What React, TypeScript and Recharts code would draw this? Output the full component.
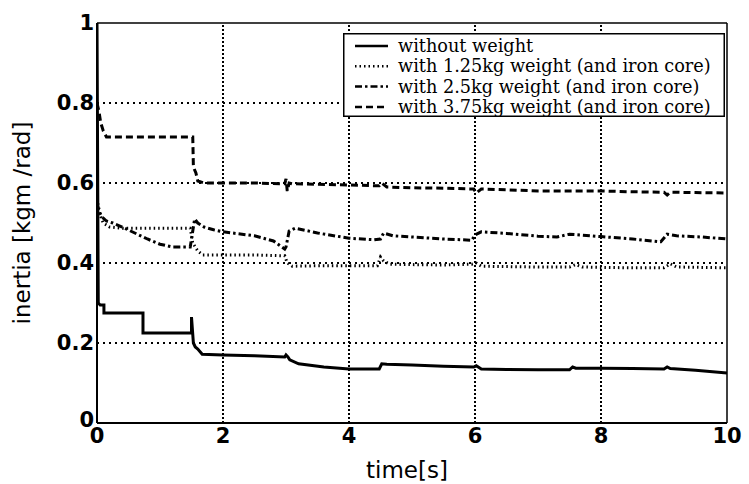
import React from 'react';
import { LineChart, Line, XAxis, YAxis, ReferenceLine, Legend } from 'recharts';

const SERIES_NAMES = [
  'without weight',
  'with 1.25kg weight (and iron core)',
  'with 2.5kg weight (and iron core)',
  'with 3.75kg weight (and iron core)',
];

// without weight
const T_NONE = [0, 0.02, 0.05, 0.11, 0.11, 0.73, 0.73, 1.5, 1.5, 1.53, 1.56, 1.6, 1.67, 2.0, 2.5, 2.98, 3.0, 3.03, 3.06, 3.2, 3.6, 4.0, 4.48, 4.52, 4.6, 5.0, 5.5, 5.98, 6.02, 6.1, 6.5, 7.0, 7.5, 7.55, 7.6, 8.0, 8.5, 9.0, 9.05, 9.1, 9.5, 10];
const V_NONE = [1.0, 0.3, 0.295, 0.295, 0.275, 0.275, 0.225, 0.225, 0.265, 0.2, 0.19, 0.185, 0.172, 0.17, 0.168, 0.165, 0.17, 0.165, 0.158, 0.148, 0.14, 0.135, 0.135, 0.148, 0.147, 0.145, 0.142, 0.14, 0.143, 0.135, 0.134, 0.133, 0.133, 0.14, 0.137, 0.137, 0.136, 0.135, 0.14, 0.136, 0.132, 0.125];

// with 1.25kg
const T_125 = [0, 0.05, 0.1, 0.2, 0.4, 1.48, 1.52, 1.6, 1.68, 2.0, 2.5, 2.98, 3.02, 3.1, 3.5, 4.0, 4.45, 4.5, 4.55, 4.65, 5.0, 5.5, 5.95, 6.02, 6.1, 6.5, 7.0, 7.5, 7.6, 7.7, 8.0, 8.5, 9.0, 9.1, 9.2, 9.6, 10];
const V_125 = [0.56, 0.52, 0.5, 0.49, 0.487, 0.487, 0.45, 0.43, 0.42, 0.42, 0.42, 0.418, 0.4, 0.392, 0.393, 0.393, 0.393, 0.415, 0.405, 0.397, 0.396, 0.395, 0.397, 0.4, 0.392, 0.391, 0.39, 0.39, 0.396, 0.39, 0.389, 0.388, 0.388, 0.398, 0.39, 0.389, 0.388];

// with 2.5kg
const T_250 = [0, 0.03, 0.08, 0.15, 0.25, 0.4, 0.6, 0.8, 1.0, 1.2, 1.48, 1.5, 1.55, 1.6, 1.7, 1.85, 2.0, 2.5, 2.8, 2.98, 3.0, 3.05, 3.15, 3.5, 4.0, 4.4, 4.5, 4.55, 4.7, 5.0, 5.5, 5.95, 6.0, 6.1, 6.5, 7.0, 7.3, 7.5, 8.0, 8.5, 8.95, 9.05, 9.2, 9.6, 10];
const V_250 = [0.55, 0.53, 0.515, 0.505, 0.5, 0.49, 0.475, 0.46, 0.447, 0.44, 0.44, 0.46, 0.51, 0.5, 0.49, 0.483, 0.478, 0.468, 0.455, 0.435, 0.44, 0.48, 0.487, 0.475, 0.462, 0.458, 0.46, 0.475, 0.468, 0.465, 0.46, 0.457, 0.47, 0.478, 0.474, 0.467, 0.465, 0.472, 0.466, 0.46, 0.453, 0.472, 0.468, 0.465, 0.46];

// with 3.75kg
const T_375 = [0, 0.03, 0.06, 0.1, 0.15, 1.52, 1.53, 1.57, 1.6, 1.7, 2.0, 2.5, 2.98, 3.0, 3.02, 3.05, 3.1, 3.5, 4.0, 4.48, 4.52, 4.6, 5.0, 5.5, 5.98, 6.02, 6.1, 6.5, 7.0, 7.5, 8.0, 8.5, 9.0, 9.05, 9.1, 9.5, 10];
const V_375 = [0.8, 0.78, 0.75, 0.73, 0.715, 0.715, 0.64, 0.625, 0.605, 0.6, 0.6, 0.6, 0.598, 0.61, 0.58, 0.6, 0.598, 0.597, 0.595, 0.593, 0.6, 0.59, 0.588, 0.587, 0.585, 0.575, 0.585, 0.583, 0.58, 0.58, 0.58, 0.578, 0.577, 0.57, 0.577, 0.576, 0.575];

const X_TICKS = [0, 2, 4, 6, 8, 10];
const Y_TICKS = [0, 0.2, 0.4, 0.6, 0.8, 1];
const X_GRID = [2, 4, 6, 8];
const Y_GRID = [0.2, 0.4, 0.6, 0.8];

const DASHES: (string | undefined)[] = [undefined, '1.5 3', '7 3 2.5 3', '7 4'];

const zip = (ts: number[], vs: number[]) => ts.map((t, i) => ({ t, v: vs[i] }));

const SERIES = [
  zip(T_NONE, V_NONE),
  zip(T_125, V_125),
  zip(T_250, V_250),
  zip(T_375, V_375),
];

const tickStyle = { fill: '#000', fontSize: 21, fontWeight: 'bold' as const, fontFamily: 'DejaVu Sans' };

const renderLegend = (props: any) => {
  const payload = [...(props.payload || [])].sort(
    (a: any, b: any) => SERIES_NAMES.indexOf(a.value) - SERIES_NAMES.indexOf(b.value)
  );
  return (
    <svg width={382} height={84} style={{ display: 'block' }}>
      <rect x={0.75} y={0.75} width={380.5} height={82.5} fill="#fff" stroke="#000" strokeWidth={1.5} />
      {payload.map((entry: any, i: number) => {
        const y = 13 + i * 20.3;
        const k = SERIES_NAMES.indexOf(entry.value);
        return (
          <g key={entry.value}>
            <line x1={12} x2={45} y1={y} y2={y} stroke="#000" strokeWidth={2.5} strokeDasharray={DASHES[k]} />
            <text x={55} y={y + 6} fontFamily="DejaVu Serif" fontSize={17.7} fill="#000">
              {entry.value}
            </text>
          </g>
        );
      })}
    </svg>
  );
};

const YTick = (props: any) => {
  const { x, y, payload } = props;
  const v = payload.value as number;
  const label = v === 0 ? '0' : v === 1 ? '1' : v.toFixed(1);
  return (
    <text x={x} y={v === 0 ? y - 3 : y} textAnchor="end" dominantBaseline="central" {...tickStyle}>
      {label}
    </text>
  );
};

const yLabel = (props: any) => {
  const vb = props.viewBox || { x: 0, y: 23, width: 97, height: 400 };
  const x = vb.x + 22;
  const y = vb.y + vb.height / 2;
  return (
    <text x={x} y={y} transform={`rotate(-90 ${x} ${y})`} textAnchor="middle" dominantBaseline="central" fontFamily="DejaVu Sans" fontSize={23} fill="#000">
      inertia [kgm /rad]
    </text>
  );
};

const xLabel = (props: any) => {
  const vb = props.viewBox || { x: 97, y: 423, width: 630, height: 61 };
  const x = vb.x + vb.width / 2 - 5;
  const y = vb.y + 55;
  return (
    <text x={x} y={y} textAnchor="middle" fontFamily="DejaVu Sans" fontSize={23} fill="#000">
      time[s]
    </text>
  );
};

export default function App() {
  return (
    <div style={{ position: 'absolute', left: 0, top: 0, background: '#fff' }}>
      <LineChart width={749} height={484} margin={{ top: 23, right: 22, bottom: 0, left: 0 }}>
        <XAxis
          type="number"
          dataKey="t"
          domain={[0, 10]}
          ticks={X_TICKS}
          interval={0}
          allowDataOverflow
          height={61}
          tickLine={false}
          tickSize={0}
          tickMargin={5}
          axisLine={{ stroke: '#000', strokeWidth: 2 }}
          tick={tickStyle}
          label={xLabel}
        />
        <YAxis
          type="number"
          domain={[0, 1]}
          ticks={Y_TICKS}
          interval={0}
          allowDataOverflow
          width={97}
          tickLine={false}
          tickSize={0}
          tickMargin={3}
          axisLine={{ stroke: '#000', strokeWidth: 2 }}
          tick={<YTick />}
          label={yLabel}
        />
        {Y_GRID.map((y) => (
          <ReferenceLine key={'gy' + y} y={y} stroke="#000" strokeWidth={2} strokeDasharray="2 4" />
        ))}
        {X_GRID.map((x) => (
          <ReferenceLine key={'gx' + x} x={x} stroke="#000" strokeWidth={2} strokeDasharray="2 2" />
        ))}
        <ReferenceLine y={1} stroke="#000" strokeWidth={1.5} />
        <ReferenceLine x={10} stroke="#000" strokeWidth={1.5} />
        {SERIES.map((data, i) => (
          <Line
            key={SERIES_NAMES[i]}
            name={SERIES_NAMES[i]}
            data={data}
            dataKey="v"
            type="linear"
            stroke="#000"
            strokeWidth={3}
            strokeDasharray={DASHES[i]}
            dot={false}
            activeDot={false}
            isAnimationActive={false}
          />
        ))}
        <Legend
          layout="vertical"
          align="center"
          verticalAlign="middle"
          content={renderLegend}
          wrapperStyle={{ left: 343, top: 33, width: 382, height: 84 }}
        />
      </LineChart>
    </div>
  );
}
